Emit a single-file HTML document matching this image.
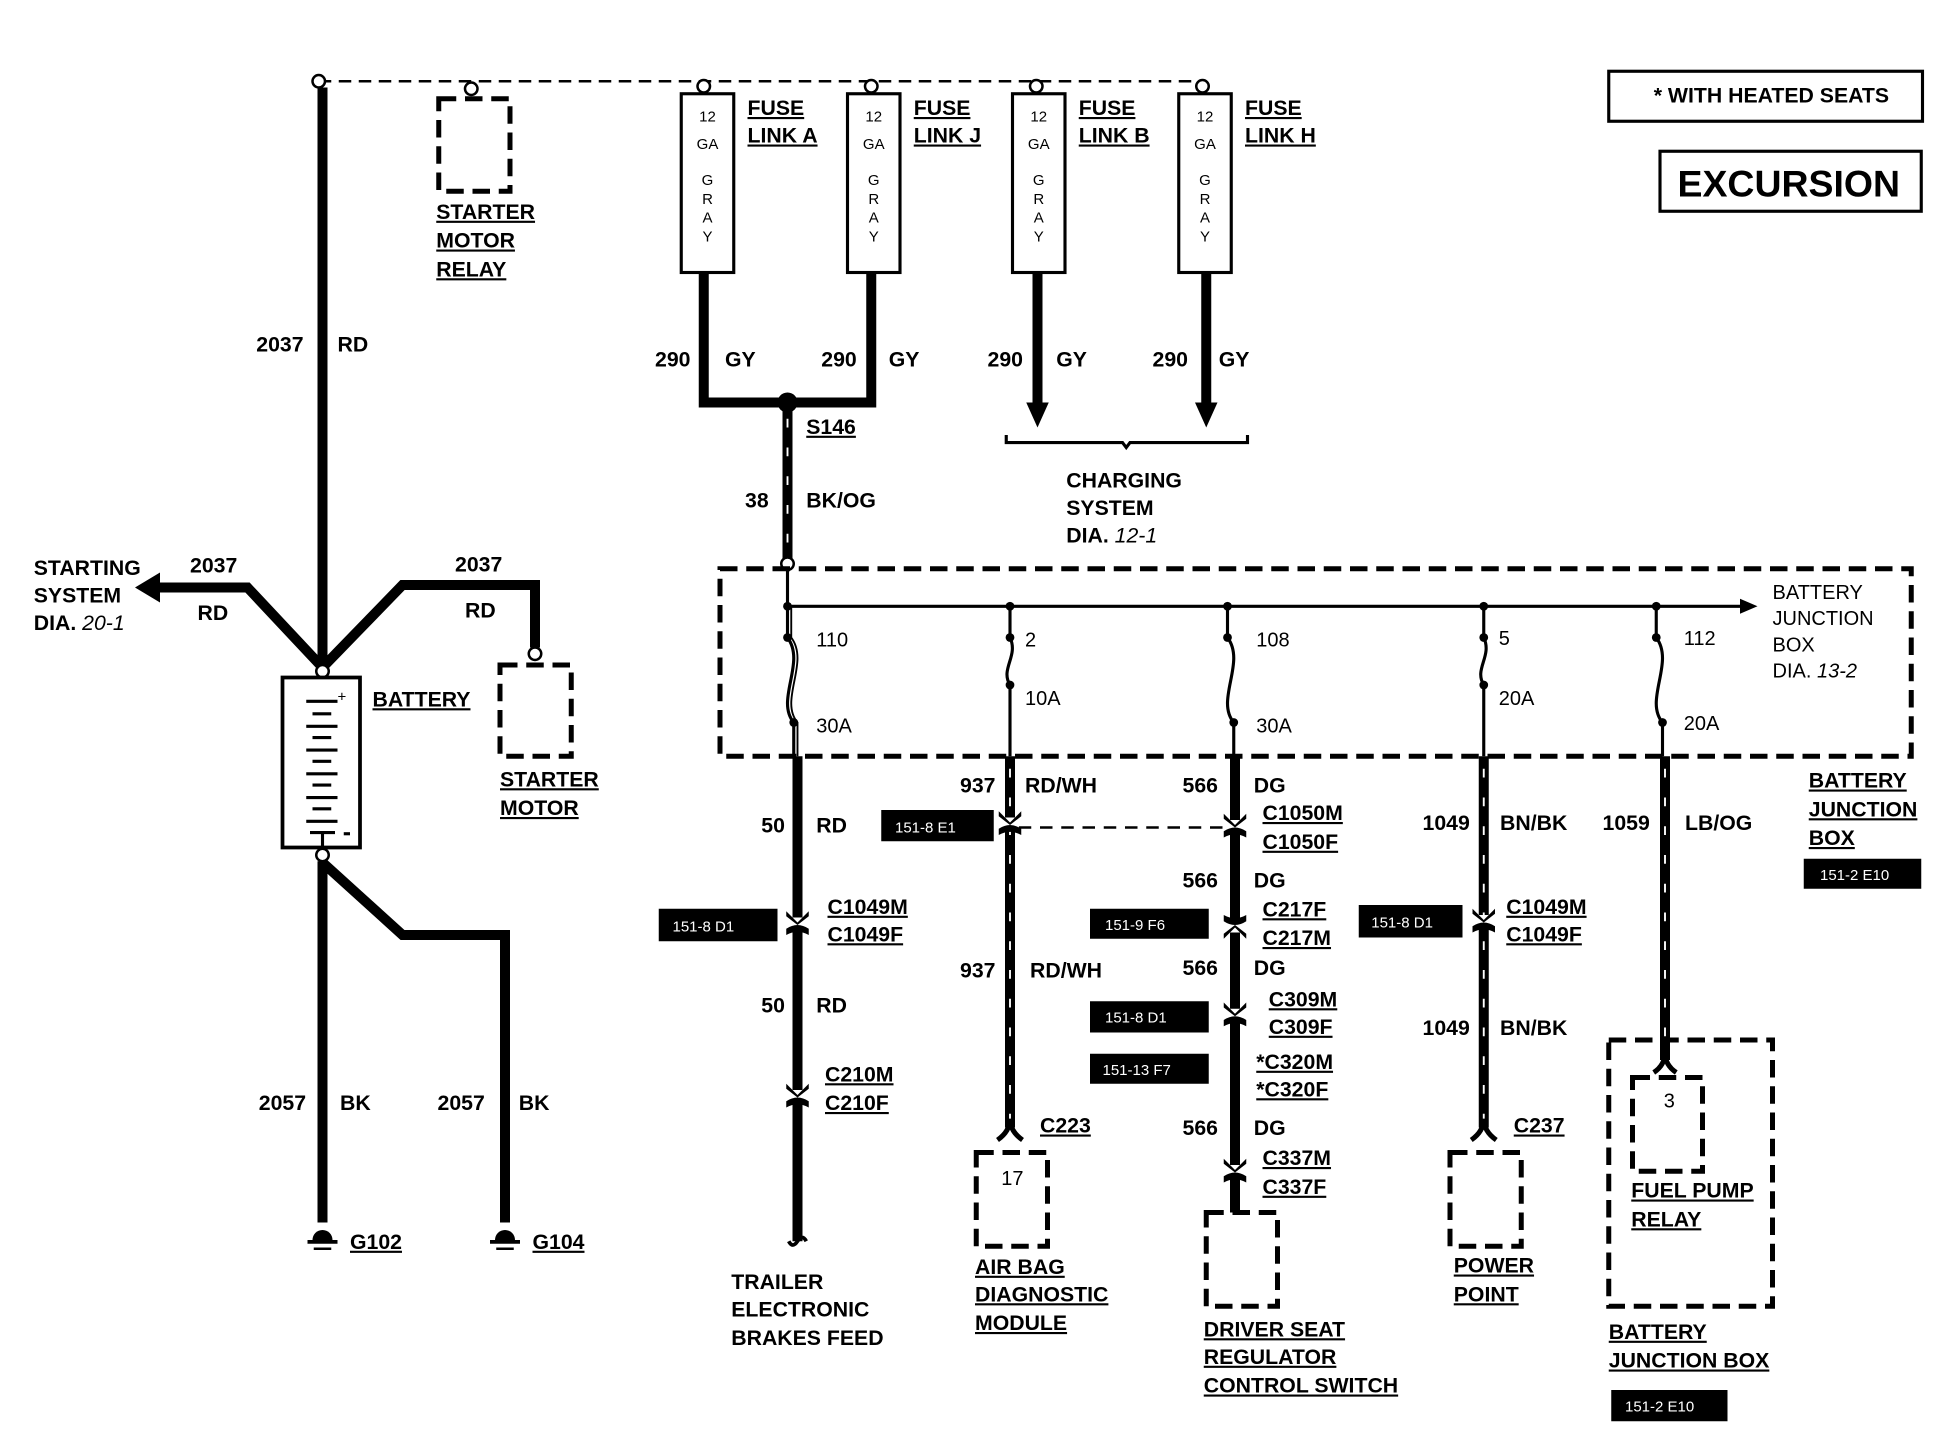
<!DOCTYPE html>
<html><head><meta charset="utf-8"><style>
html,body{margin:0;padding:0;background:#fff;}
svg{display:block;}
text{font-family:"Liberation Sans",Arial,sans-serif;font-weight:bold;font-size:17px;fill:#000;}
.u{text-decoration:underline;}
.s{font-size:12px;font-weight:normal;}
.n{font-weight:normal;font-size:16px;}
.w{fill:#fff;font-size:12px;font-weight:normal;}
.th{stroke:#000;stroke-width:8;fill:none;}
.tn{stroke:#000;stroke-width:2.5;fill:none;}
.hat{stroke:#fff;stroke-width:1.5;stroke-dasharray:7 16;fill:none;}
.db{stroke:#000;stroke-width:4;stroke-dasharray:14 7;fill:none;}
</style></head><body>
<svg width="1950" height="1440" viewBox="0 0 1560 1152" xmlns="http://www.w3.org/2000/svg">
<defs>
<g id="conn">
<rect x="-7" y="-6" width="14" height="11" fill="#fff"/>
<path d="M-9,-11 L0,-2 L9,-11 L9,-7 L0,0 L-9,-7Z" fill="#000"/>
<path d="M-9,3 Q0,-3 9,3 L9,8 Q0,3 -9,8Z" fill="#000"/>
</g>
</defs>

<line x1="255" y1="65" x2="963" y2="65" stroke="#000" stroke-width="2" stroke-dasharray="10 6"/>
<circle cx="255" cy="65" r="5" fill="#fff" stroke="#000" stroke-width="2"/>
<line class="th" x1="258" y1="70" x2="258" y2="533"/>
<text x="205" y="281">2037</text><text x="270" y="281">RD</text>

<circle cx="377" cy="71" r="5" fill="#fff" stroke="#000" stroke-width="2"/>
<rect class="db" x="351" y="79" width="57" height="74"/>
<text class="u" x="349" y="175">STARTER</text>
<text class="u" x="349" y="198">MOTOR</text>
<text class="u" x="349" y="221">RELAY</text>

<g>
<circle cx="563" cy="69" r="5" fill="#fff" stroke="#000" stroke-width="2"/>
<rect x="545" y="75" width="42" height="143" fill="#fff" stroke="#000" stroke-width="2.5"/>
<text class="s" x="566" y="97" text-anchor="middle">12</text><text class="s" x="566" y="119" text-anchor="middle">GA</text>
<text class="s" x="566" y="148" text-anchor="middle">G</text><text class="s" x="566" y="163" text-anchor="middle">R</text><text class="s" x="566" y="178" text-anchor="middle">A</text><text class="s" x="566" y="193" text-anchor="middle">Y</text>
<text class="u" x="598" y="92">FUSE</text><text class="u" x="598" y="114">LINK A</text>
</g>
<g>
<circle cx="697" cy="69" r="5" fill="#fff" stroke="#000" stroke-width="2"/>
<rect x="678" y="75" width="42" height="143" fill="#fff" stroke="#000" stroke-width="2.5"/>
<text class="s" x="699" y="97" text-anchor="middle">12</text><text class="s" x="699" y="119" text-anchor="middle">GA</text>
<text class="s" x="699" y="148" text-anchor="middle">G</text><text class="s" x="699" y="163" text-anchor="middle">R</text><text class="s" x="699" y="178" text-anchor="middle">A</text><text class="s" x="699" y="193" text-anchor="middle">Y</text>
<text class="u" x="731" y="92">FUSE</text><text class="u" x="731" y="114">LINK J</text>
</g>
<g>
<circle cx="829" cy="69" r="5" fill="#fff" stroke="#000" stroke-width="2"/>
<rect x="810" y="75" width="42" height="143" fill="#fff" stroke="#000" stroke-width="2.5"/>
<text class="s" x="831" y="97" text-anchor="middle">12</text><text class="s" x="831" y="119" text-anchor="middle">GA</text>
<text class="s" x="831" y="148" text-anchor="middle">G</text><text class="s" x="831" y="163" text-anchor="middle">R</text><text class="s" x="831" y="178" text-anchor="middle">A</text><text class="s" x="831" y="193" text-anchor="middle">Y</text>
<text class="u" x="863" y="92">FUSE</text><text class="u" x="863" y="114">LINK B</text>
</g>
<g>
<circle cx="962" cy="69" r="5" fill="#fff" stroke="#000" stroke-width="2"/>
<rect x="943" y="75" width="42" height="143" fill="#fff" stroke="#000" stroke-width="2.5"/>
<text class="s" x="964" y="97" text-anchor="middle">12</text><text class="s" x="964" y="119" text-anchor="middle">GA</text>
<text class="s" x="964" y="148" text-anchor="middle">G</text><text class="s" x="964" y="163" text-anchor="middle">R</text><text class="s" x="964" y="178" text-anchor="middle">A</text><text class="s" x="964" y="193" text-anchor="middle">Y</text>
<text class="u" x="996" y="92">FUSE</text><text class="u" x="996" y="114">LINK H</text>
</g>

<path class="th" d="M563,218 V322 H697 V218"/>
<circle cx="630" cy="322" r="8" fill="#000"/>
<line class="th" x1="830" y1="218" x2="830" y2="325"/>
<path d="M821,322 L839,322 L830,342Z" fill="#000"/>
<line class="th" x1="965" y1="218" x2="965" y2="325"/>
<path d="M956,322 L974,322 L965,342Z" fill="#000"/>
<text x="524" y="293">290</text><text x="580" y="293">GY</text>
<text x="657" y="293">290</text><text x="711" y="293">GY</text>
<text x="790" y="293">290</text><text x="845" y="293">GY</text>
<text x="922" y="293">290</text><text x="975" y="293">GY</text>
<path d="M805,348 V354 H898 L901,358 L904,354 H998 V348" stroke="#000" stroke-width="2.5" fill="none"/>
<text x="853" y="390">CHARGING</text><text x="853" y="412">SYSTEM</text><text x="853" y="434">DIA. <tspan font-style="italic" font-weight="normal">12-1</tspan></text>

<line class="th" x1="630" y1="322" x2="630" y2="448"/>
<line class="hat" x1="630" y1="335" x2="630" y2="448"/>
<text class="u" x="645" y="347">S146</text>
<text x="596" y="406">38</text><text x="645" y="406">BK/OG</text>
<circle cx="630" cy="451" r="5" fill="#fff" stroke="#000" stroke-width="2"/>

<rect class="db" x="576" y="455" width="953" height="150"/>
<line class="tn" x1="630" y1="456" x2="630" y2="485"/>
<line class="tn" x1="630" y1="485" x2="1395" y2="485"/>
<path d="M1392,479 L1406,485 L1392,491Z" fill="#000"/>
<text class="n" x="1418" y="479">BATTERY</text><text class="n" x="1418" y="500">JUNCTION</text><text class="n" x="1418" y="521">BOX</text><text class="n" x="1418" y="542">DIA. <tspan font-style="italic">13-2</tspan></text>

<g stroke="#000" stroke-width="2.5" fill="none">
<path d="M630,485 V510 C645,530 620,560 635,578 V605"/>
<path d="M633,486 V510 C648,530 623,560 638,578 V605" stroke-width="1.5"/>
<path d="M808,485 V510 C815,525 800,535 808,548 V605"/>
<path d="M982,485 V510 C997,530 972,560 987,578 V605"/>
<path d="M1187,485 V510 C1194,525 1179,535 1187,548 V605"/>
<path d="M1325,485 V510 C1340,530 1315,560 1330,578 V605"/>
</g>
<g fill="#000">
<circle cx="630" cy="485" r="3.5"/><circle cx="808" cy="485" r="3.5"/><circle cx="982" cy="485" r="3.5"/><circle cx="1187" cy="485" r="3.5"/><circle cx="1325" cy="485" r="3.5"/>
<circle cx="630" cy="510" r="3.5"/><circle cx="635" cy="578" r="3.5"/>
<circle cx="808" cy="510" r="3.5"/><circle cx="808" cy="548" r="3.5"/>
<circle cx="982" cy="510" r="3.5"/><circle cx="987" cy="578" r="3.5"/>
<circle cx="1187" cy="510" r="3.5"/><circle cx="1187" cy="548" r="3.5"/>
<circle cx="1325" cy="510" r="3.5"/><circle cx="1330" cy="578" r="3.5"/>
</g>
<text class="n" x="653" y="517">110</text><text class="n" x="653" y="586">30A</text>
<text class="n" x="820" y="517">2</text><text class="n" x="820" y="564">10A</text>
<text class="n" x="1005" y="517">108</text><text class="n" x="1005" y="586">30A</text>
<text class="n" x="1199" y="516">5</text><text class="n" x="1199" y="564">20A</text>
<text class="n" x="1347" y="516">112</text><text class="n" x="1347" y="584">20A</text>

<text class="u" x="1447" y="630">BATTERY</text><text class="u" x="1447" y="653">JUNCTION</text><text class="u" x="1447" y="676">BOX</text>
<rect x="1443" y="687" width="94" height="24" fill="#000"/><text class="w" x="1456" y="704">151-2 E10</text>

<line class="th" x1="638" y1="605" x2="638" y2="993"/>
<use href="#conn" x="638" y="740"/>
<use href="#conn" x="638" y="878"/>
<path d="M631,993 q3,6 7,0 q4,-6 7,0" stroke="#000" stroke-width="3" fill="none"/>
<text x="609" y="666">50</text><text x="653" y="666">RD</text>
<text x="609" y="810">50</text><text x="653" y="810">RD</text>
<rect x="527" y="727" width="95" height="26" fill="#000"/><text class="w" x="538" y="745">151-8 D1</text>
<text class="u" x="662" y="731">C1049M</text><text class="u" x="662" y="753">C1049F</text>
<text class="u" x="660" y="865">C210M</text><text class="u" x="660" y="888">C210F</text>
<text x="585" y="1031">TRAILER</text><text x="585" y="1053">ELECTRONIC</text><text x="585" y="1076">BRAKES FEED</text>

<line class="th" x1="808" y1="605" x2="808" y2="902"/>
<line class="hat" x1="808" y1="615" x2="808" y2="895"/>
<line x1="815" y1="662" x2="982" y2="662" stroke="#000" stroke-width="2" stroke-dasharray="10 7"/>
<use href="#conn" x="808" y="660"/>
<path d="M798,912 Q808,905 808,895 Q808,905 818,912" stroke="#000" stroke-width="4" fill="none"/>
<text x="768" y="634">937</text><text x="820" y="634">RD/WH</text>
<text x="768" y="782">937</text><text x="824" y="782">RD/WH</text>
<rect x="705" y="648" width="90" height="25" fill="#000"/><text class="w" x="716" y="666">151-8 E1</text>
<text class="u" x="832" y="906">C223</text>
<rect class="db" x="781" y="922" width="57" height="75"/>
<text class="n" x="801" y="948">17</text>
<text class="u" x="780" y="1019">AIR BAG</text><text class="u" x="780" y="1041">DIAGNOSTIC</text><text class="u" x="780" y="1064">MODULE</text>

<line class="th" x1="988" y1="605" x2="988" y2="970"/>
<use href="#conn" x="988" y="662"/>
<g transform="translate(988,740) scale(1,-1)"><use href="#conn"/></g>
<use href="#conn" x="988" y="813"/>
<use href="#conn" x="988" y="938"/>
<text x="946" y="634">566</text><text x="1003" y="634">DG</text>
<text class="u" x="1010" y="656">C1050M</text><text class="u" x="1010" y="679">C1050F</text>
<text x="946" y="710">566</text><text x="1003" y="710">DG</text>
<text class="u" x="1010" y="733">C217F</text><text class="u" x="1010" y="756">C217M</text>
<rect x="872" y="727" width="95" height="24" fill="#000"/><text class="w" x="884" y="744">151-9 F6</text>
<text x="946" y="780">566</text><text x="1003" y="780">DG</text>
<text class="u" x="1015" y="805">C309M</text><text class="u" x="1015" y="827">C309F</text>
<rect x="872" y="801" width="95" height="25" fill="#000"/><text class="w" x="884" y="818">151-8 D1</text>
<rect x="872" y="843" width="95" height="24" fill="#000"/><text class="w" x="882" y="860">151-13 F7</text>
<text class="u" x="1005" y="855">*C320M</text><text class="u" x="1005" y="877">*C320F</text>
<text x="946" y="908">566</text><text x="1003" y="908">DG</text>
<text class="u" x="1010" y="932">C337M</text><text class="u" x="1010" y="955">C337F</text>
<rect class="db" x="965" y="970" width="57" height="75"/>
<text class="u" x="963" y="1069">DRIVER SEAT</text><text class="u" x="963" y="1091">REGULATOR</text><text class="u" x="963" y="1114">CONTROL SWITCH</text>

<line class="th" x1="1187" y1="605" x2="1187" y2="902"/>
<line class="hat" x1="1187" y1="615" x2="1187" y2="895"/>
<use href="#conn" x="1187" y="738"/>
<path d="M1177,912 Q1187,905 1187,895 Q1187,905 1197,912" stroke="#000" stroke-width="4" fill="none"/>
<text x="1138" y="664">1049</text><text x="1200" y="664">BN/BK</text>
<rect x="1087" y="724" width="83" height="26" fill="#000"/><text class="w" x="1097" y="742">151-8 D1</text>
<text class="u" x="1205" y="731">C1049M</text><text class="u" x="1205" y="753">C1049F</text>
<text x="1138" y="828">1049</text><text x="1200" y="828">BN/BK</text>
<text class="u" x="1211" y="906">C237</text>
<rect class="db" x="1160" y="922" width="57" height="75"/>
<text class="u" x="1163" y="1018">POWER</text><text class="u" x="1163" y="1041">POINT</text>

<line class="th" x1="1332" y1="605" x2="1332" y2="848"/>
<line class="hat" x1="1332" y1="615" x2="1332" y2="840"/>
<path d="M1323,858 Q1332,852 1332,842 Q1332,852 1341,858" stroke="#000" stroke-width="4" fill="none"/>
<text x="1282" y="664">1059</text><text x="1348" y="664">LB/OG</text>
<rect class="db" x="1287" y="832" width="131" height="213"/>
<rect class="db" x="1306" y="862" width="56" height="75"/>
<text class="n" x="1331" y="886">3</text>
<text class="u" x="1305" y="958">FUEL PUMP</text><text class="u" x="1305" y="981">RELAY</text>
<text class="u" x="1287" y="1071">BATTERY</text><text class="u" x="1287" y="1094">JUNCTION BOX</text>
<rect x="1289" y="1112" width="93" height="25" fill="#000"/><text class="w" x="1300" y="1129">151-2 E10</text>

<path class="th" d="M258,534 L198,470 H125"/>
<path d="M128,458 L108,470 L128,482Z" fill="#000"/>
<path class="th" d="M258,534 L322,468 H428 V518"/>
<circle cx="428" cy="523" r="5" fill="#fff" stroke="#000" stroke-width="2"/>
<circle cx="258" cy="537" r="5" fill="#fff" stroke="#000" stroke-width="2"/>
<rect class="db" x="400" y="532" width="57" height="73"/>
<text x="27" y="460">STARTING</text><text x="27" y="482">SYSTEM</text><text x="27" y="504">DIA. <tspan font-style="italic" font-weight="normal">20-1</tspan></text>
<text x="152" y="458">2037</text><text x="158" y="496">RD</text>
<text x="364" y="457">2037</text><text x="372" y="494">RD</text>
<rect x="226" y="542" width="62" height="136" fill="#fff" stroke="#000" stroke-width="3"/>
<g stroke="#000" stroke-width="2.5">
<line x1="245" y1="561" x2="270" y2="561"/><line x1="250" y1="571" x2="265" y2="571"/>
<line x1="245" y1="581" x2="270" y2="581"/><line x1="250" y1="590" x2="265" y2="590"/>
<line x1="245" y1="600" x2="270" y2="600"/><line x1="250" y1="609" x2="265" y2="609"/>
<line x1="245" y1="619" x2="270" y2="619"/><line x1="250" y1="628" x2="265" y2="628"/>
<line x1="245" y1="638" x2="270" y2="638"/><line x1="250" y1="647" x2="265" y2="647"/>
<line x1="245" y1="657" x2="270" y2="657"/>
<line x1="248" y1="666" x2="268" y2="666"/><line x1="258" y1="666" x2="258" y2="678"/>
<line x1="275" y1="667" x2="280" y2="667"/>
</g>
<text x="270" y="561" class="s">+</text>
<circle cx="258" cy="684" r="5" fill="#fff" stroke="#000" stroke-width="2"/>
<text class="u" x="298" y="565">BATTERY</text>
<text class="u" x="400" y="629">STARTER</text><text class="u" x="400" y="652">MOTOR</text>
<line class="th" x1="258" y1="689" x2="258" y2="978"/>
<path class="th" d="M258,690 L322,748 H404 V978"/>
<text x="207" y="888">2057</text><text x="272" y="888">BK</text>
<text x="350" y="888">2057</text><text x="415" y="888">BK</text>
<g fill="#000">
<path d="M250,992 A8,8 0 0 1 266,992Z"/><rect x="246" y="992" width="24" height="3"/><rect x="251" y="998" width="14" height="2"/>
<path d="M396,992 A8,8 0 0 1 412,992Z"/><rect x="392" y="992" width="24" height="3"/><rect x="397" y="998" width="14" height="2"/>
</g>
<text class="u" x="280" y="999">G102</text>
<text class="u" x="426" y="999">G104</text>

<rect x="1287" y="57" width="251" height="40" fill="none" stroke="#000" stroke-width="2.5"/>
<text x="1323" y="82">*  WITH HEATED SEATS</text>
<rect x="1328" y="121" width="209" height="48" fill="none" stroke="#000" stroke-width="2.5"/>
<text x="1342" y="157" style="font-size:30px" textLength="178" lengthAdjust="spacingAndGlyphs">EXCURSION</text>
</svg>
</body></html>
